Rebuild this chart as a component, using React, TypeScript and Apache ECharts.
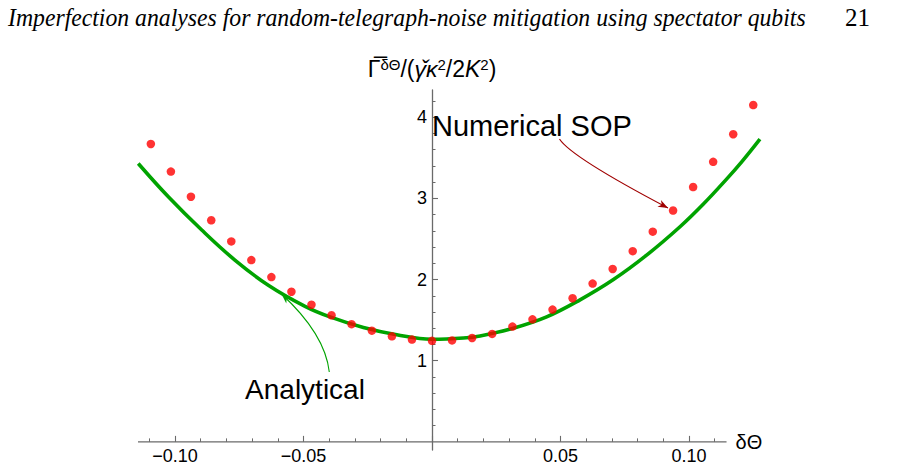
import React, { useEffect, useRef } from 'react';
import * as echarts from 'echarts';

// Numerical SOP (red dots)
const xNumeric = [-0.1094, -0.1016, -0.0938, -0.0859, -0.0781, -0.0703, -0.0625, -0.0547, -0.0469, -0.0391, -0.0313, -0.0234, -0.0156, -0.0078, 0, 0.0078, 0.0156, 0.0234, 0.0313, 0.0391, 0.0469, 0.0547, 0.0625, 0.0703, 0.0781, 0.0859, 0.0938, 0.1016, 0.1094, 0.1172, 0.125];
const yNumeric = [3.67, 3.33, 3.02, 2.73, 2.47, 2.24, 2.03, 1.85, 1.69, 1.56, 1.45, 1.37, 1.30, 1.26, 1.245, 1.25, 1.28, 1.33, 1.42, 1.51, 1.63, 1.77, 1.95, 2.13, 2.35, 2.59, 2.85, 3.14, 3.45, 3.79, 4.15];

// Analytical (green curve)
const xAnalytical = [-0.1143, -0.1026, -0.0896, -0.0767, -0.0637, -0.0494, -0.0397, -0.0267, -0.0137, 0, 0.0122, 0.0187, 0.0316, 0.0446, 0.0576, 0.0706, 0.0835, 0.0965, 0.1056, 0.1147, 0.1205, 0.1276];
const yAnalytical = [3.43, 3.02, 2.61, 2.24, 1.93, 1.67, 1.54, 1.41, 1.32, 1.265, 1.28, 1.305, 1.40, 1.54, 1.75, 2.00, 2.30, 2.65, 2.93, 3.24, 3.45, 3.73];

// Axes
const xRange = [-0.1144, 0.1284];
const xAxisLineEnd = 0.1146;
const yRange = [-0.1, 4.335];
const xMajorTicks = [-0.1, -0.05, 0, 0.05, 0.1];
const xTickLabels = [-0.1, -0.05, 0.05, 0.1];
const xMinorTicks = [-0.11, -0.09, -0.08, -0.07, -0.06, -0.04, -0.03, -0.02, -0.01, 0.01, 0.02, 0.03, 0.04, 0.06, 0.07, 0.08, 0.09, 0.11];
const yMajorTicks = [1, 2, 3, 4];
const yTickLabels = [1, 2, 3, 4];
const yMinorTicks = [0.2, 0.4, 0.6, 0.8, 1.2, 1.4, 1.6, 1.8, 2.2, 2.4, 2.6, 2.8, 3.2, 3.4, 3.6, 3.8, 4.2];

const headerText = 'Imperfection analyses for random-telegraph-noise mitigation using spectator qubits';
const pageNumber = '21';

const SANS = '"Liberation Sans", Arial, sans-serif';
const SERIF = '"Liberation Serif", "DejaVu Serif", serif';
const AXIS_COLOR = '#6a6a6a';

const GRID_LEFT = 138;
const GRID_RIGHT = 137;
const GRID_TOP = 90;
const GRID_BOTTOM = 21;
const W = 899;
const H = 471;

function arrowHead(tip: number[], from: number[], len: number, half: number) {
  const dx = tip[0] - from[0];
  const dy = tip[1] - from[1];
  const d = Math.sqrt(dx * dx + dy * dy);
  const ux = dx / d, uy = dy / d;
  const bx = tip[0] - ux * len, by = tip[1] - uy * len;
  const nx = -uy, ny = ux;
  const mx = tip[0] - ux * len * 0.7, my = tip[1] - uy * len * 0.7;
  return [tip, [bx + nx * half, by + ny * half], [mx, my], [bx - nx * half, by - ny * half]];
}

export default function App() {
  const ref = useRef<HTMLDivElement>(null);

  useEffect(() => {
    if (!ref.current) return;
    const chart = echarts.init(ref.current, undefined, { renderer: 'svg' });

    let headerScale = 1;
    const cv = document.createElement('canvas').getContext('2d');
    if (cv) {
      cv.font = 'italic 25px ' + SERIF;
      const w = cv.measureText(headerText).width;
      if (w > 0) headerScale = 798 / w;
    }

    const fmtX = (v: number) => (v < 0 ? '\u2212' : '') + Math.abs(v).toFixed(2);

    // pixel offsets that put the axes through the origin
    const plotW = W - GRID_LEFT - GRID_RIGHT;
    const plotH = H - GRID_TOP - GRID_BOTTOM;
    const yAxisOffset = -((0 - xRange[0]) / (xRange[1] - xRange[0])) * plotW;
    const xAxisOffset = -((0 - yRange[0]) / (yRange[1] - yRange[0])) * plotH;

    const numArrowStart = [559.5, 139];
    const numArrowCtrl = [571, 157];
    const numArrowTip = [668, 208];
    const anaArrowStart = [329.3, 372];
    const anaArrowCtrl = [325, 334];
    const anaArrowTip = [281.5, 294];

    const xAxisBase = {
      type: 'value', min: xRange[0], max: xRange[1],
      position: 'bottom', offset: xAxisOffset,
      splitLine: { show: false },
    };
    const yAxisBase = {
      type: 'value', min: yRange[0], max: yRange[1],
      position: 'left', offset: yAxisOffset,
      splitLine: { show: false },
    };

    const option: any = {
      animation: false,
      grid: { left: GRID_LEFT, right: GRID_RIGHT, top: GRID_TOP, bottom: GRID_BOTTOM, containLabel: false },
      xAxis: [
        {
          ...xAxisBase,
          axisLine: { show: false, onZero: false },
          axisTick: { show: true, inside: true, length: 6, customValues: xMajorTicks, lineStyle: { color: AXIS_COLOR, width: 1.1 } },
          axisLabel: { show: true, customValues: xTickLabels, formatter: fmtX, fontSize: 18, color: '#000', fontFamily: SANS, margin: 5 },
        },
        {
          ...xAxisBase,
          axisLine: { show: false, onZero: false },
          axisTick: { show: true, inside: true, length: 3.5, customValues: xMinorTicks, lineStyle: { color: AXIS_COLOR, width: 1 } },
          axisLabel: { show: false },
        },
      ],
      yAxis: [
        {
          ...yAxisBase,
          axisLine: { show: true, onZero: false, lineStyle: { color: AXIS_COLOR, width: 1.3 } },
          axisTick: { show: true, inside: true, length: 6, customValues: yMajorTicks, lineStyle: { color: AXIS_COLOR, width: 1.1 } },
          axisLabel: { show: true, customValues: yTickLabels, fontSize: 18, color: '#000', fontFamily: SANS, margin: 5 },
          name: '{g|\u0393\u0305}{s|δΘ}{n|/(}{i|γ\u030Cκ}{s|2}{n|/2}{i|K}{s|2}{n|)}',
          nameLocation: 'end', nameGap: 10,
          nameTextStyle: {
            fontFamily: SANS, color: '#000',
            rich: {
              g: { fontSize: 23, fontFamily: SANS, color: '#000', verticalAlign: 'bottom' },
              n: { fontSize: 23, fontFamily: SANS, color: '#000', verticalAlign: 'bottom' },
              i: { fontSize: 23, fontFamily: SANS, fontStyle: 'italic', color: '#000', verticalAlign: 'bottom' },
              s: { fontSize: 15, fontFamily: SANS, color: '#000', verticalAlign: 'top' },
            },
          },
        },
        {
          ...yAxisBase,
          axisLine: { show: false, onZero: false },
          axisTick: { show: true, inside: true, length: 3.5, customValues: yMinorTicks, lineStyle: { color: AXIS_COLOR, width: 1 } },
          axisLabel: { show: false },
        },
      ],
      series: [
        {
          name: 'Analytical', type: 'line', xAxisIndex: 0, yAxisIndex: 0,
          data: xAnalytical.map((x, i) => [x, yAnalytical[i]]),
          showSymbol: false, smooth: 0.4, clip: false,
          lineStyle: { color: '#00a300', width: 3.6 },
          z: 2,
        },
        {
          name: 'Numerical SOP', type: 'scatter', xAxisIndex: 0, yAxisIndex: 0,
          data: xNumeric.map((x, i) => [x, yNumeric[i]]),
          symbol: 'circle', symbolSize: 8.5, clip: false,
          itemStyle: { color: '#ff0000' },
          z: 3,
        },
      ],
    };

    chart.setOption(option);

    const p0 = chart.convertToPixel({ xAxisIndex: 0, yAxisIndex: 0 }, [xRange[0], 0]) as number[];
    const p1 = chart.convertToPixel({ xAxisIndex: 0, yAxisIndex: 0 }, [xAxisLineEnd, 0]) as number[];

    chart.setOption({
      graphic: [
        {
          type: 'line', shape: { x1: p0[0], y1: p0[1], x2: p1[0], y2: p1[1] },
          style: { stroke: AXIS_COLOR, lineWidth: 1.3 }, z: 1,
        },
        {
          type: 'text', x: p1[0] + 9, y: p1[1],
          style: { text: 'δΘ', font: '20px ' + SANS, fill: '#000', verticalAlign: 'middle', align: 'left' },
        },
        {
          type: 'text', x: 8, y: 17, scaleX: headerScale, originX: 0,
          style: { text: headerText, font: 'italic 25px ' + SERIF, fill: '#000', verticalAlign: 'middle', align: 'left' },
        },
        {
          type: 'text', x: 845, y: 17,
          style: { text: pageNumber, font: '25px ' + SERIF, fill: '#000', verticalAlign: 'middle', align: 'left' },
        },
        {
          type: 'text', x: 432, y: 126,
          style: { text: 'Numerical SOP', font: '29px ' + SANS, fill: '#000', verticalAlign: 'middle', align: 'left' },
          z: 10,
        },
        {
          type: 'text', x: 305, y: 389,
          style: { text: 'Analytical', font: '28px ' + SANS, fill: '#000', verticalAlign: 'middle', align: 'center' },
          z: 10,
        },
        {
          type: 'bezierCurve',
          shape: { x1: numArrowStart[0], y1: numArrowStart[1], cpx1: numArrowCtrl[0], cpy1: numArrowCtrl[1], x2: numArrowTip[0], y2: numArrowTip[1] },
          style: { stroke: '#a00000', lineWidth: 1.2, fill: null },
          z: 10,
        },
        {
          type: 'polygon',
          shape: { points: arrowHead(numArrowTip, numArrowCtrl, 10, 3.8) },
          style: { fill: '#a00000', stroke: null },
          z: 10,
        },
        {
          type: 'bezierCurve',
          shape: { x1: anaArrowStart[0], y1: anaArrowStart[1], cpx1: anaArrowCtrl[0], cpy1: anaArrowCtrl[1], x2: anaArrowTip[0], y2: anaArrowTip[1] },
          style: { stroke: '#00a300', lineWidth: 1.1, fill: null },
          z: 10,
        },
        {
          type: 'polygon',
          shape: { points: arrowHead(anaArrowTip, anaArrowCtrl, 10, 3.8) },
          style: { fill: '#00a300', stroke: null },
          z: 10,
        },
      ],
    });

    return () => chart.dispose();
  }, []);

  return (
    <div
      ref={ref}
      style={{ position: 'fixed', left: 0, top: 0, width: W, height: H, background: '#fff' }}
    />
  );
}
